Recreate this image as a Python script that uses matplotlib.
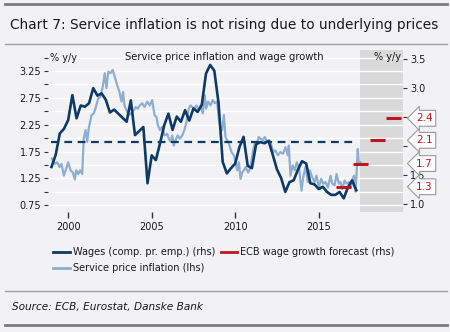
import numpy as np
import matplotlib
matplotlib.use("Agg")
import matplotlib.pyplot as plt
from matplotlib.lines import Line2D

plt.rcParams['font.family'] = ['DejaVu Sans']

# wages: compensation per employee, % y/y, quarterly from 1999Q1 (rhs)
wage_start = 1999.0
wages = [1.64, 1.85, 2.22, 2.30,
         2.45, 2.88, 2.48, 2.70,
         2.68, 2.74, 3.00, 2.87,
         2.91, 2.80, 2.58, 2.63,
         2.56, 2.49, 2.42, 2.79,
         2.19, 2.26, 2.33, 1.36,
         1.84, 1.76, 2.05, 2.36,
         2.56, 2.28, 2.51, 2.42,
         2.62, 2.44, 2.65, 2.59,
         2.71, 3.25, 3.40, 3.30,
         2.75, 1.73, 1.53, 1.62,
         1.70, 1.98, 2.16, 1.66,
         1.62, 2.03, 2.07, 2.05,
         2.09, 1.85, 1.60, 1.45,
         1.21, 1.38, 1.41, 1.59,
         1.74, 1.70, 1.36, 1.34,
         1.26, 1.30, 1.21, 1.16,
         1.16, 1.21, 1.10, 1.29,
         1.41, 1.24]
wage_avg = 2.07

# service price inflation, % y/y (lhs)
sip_dates = [1999.02, 1999.2, 1999.34, 1999.48, 1999.6, 1999.74, 1999.88,
             2000.0, 2000.14, 2000.28, 2000.4, 2000.48, 2000.6, 2000.72, 2000.84,
             2000.93, 2001.04, 2001.14, 2001.23, 2001.4, 2001.53, 2001.63, 2001.8,
             2001.93, 2002.07, 2002.19, 2002.29, 2002.4, 2002.53, 2002.67, 2002.79,
             2002.93, 2003.07, 2003.19, 2003.29, 2003.37, 2003.49, 2003.63, 2003.77,
             2003.93, 2004.03, 2004.17, 2004.29, 2004.43, 2004.57, 2004.73, 2004.89,
             2005.03, 2005.17, 2005.29, 2005.37, 2005.49, 2005.63, 2005.77, 2005.93,
             2006.02, 2006.13, 2006.23, 2006.32, 2006.43, 2006.56, 2006.68, 2006.83,
             2006.96, 2007.08, 2007.22, 2007.32, 2007.43, 2007.56, 2007.68, 2007.82,
             2007.92, 2008.06, 2008.18, 2008.26, 2008.38, 2008.52, 2008.66, 2008.78,
             2008.92, 2009.02, 2009.12, 2009.22, 2009.32, 2009.42, 2009.52, 2009.62,
             2009.78, 2009.92, 2010.02, 2010.12, 2010.22, 2010.32, 2010.42, 2010.52,
             2010.62, 2010.78, 2010.92, 2011.05, 2011.17, 2011.32, 2011.41, 2011.51,
             2011.65, 2011.77, 2011.92, 2012.05, 2012.17, 2012.28, 2012.41, 2012.55,
             2012.71, 2012.87, 2013.01, 2013.15, 2013.21, 2013.31, 2013.44, 2013.57,
             2013.69, 2013.83, 2013.97, 2014.09, 2014.21, 2014.35, 2014.47, 2014.61,
             2014.75, 2014.87, 2015.01, 2015.15, 2015.27, 2015.41, 2015.55, 2015.71,
             2015.81, 2015.95, 2016.07, 2016.21, 2016.31, 2016.41, 2016.55, 2016.67,
             2016.81, 2016.91, 2017.01, 2017.11, 2017.2, 2017.26, 2017.34, 2017.4,
             2017.5]
sip = [1.62, 1.52, 1.55, 1.46, 1.52, 1.30, 1.43,
       1.55, 1.40, 1.36, 1.23, 1.40, 1.33, 1.40, 1.33,
       1.99, 2.15, 1.93, 2.18, 2.43, 2.46, 2.55, 2.74,
       2.77, 2.96, 3.21, 2.93, 3.24, 3.21, 3.27, 3.14,
       2.99, 2.86, 2.68, 2.86, 2.61, 2.52, 2.43, 2.46,
       2.52, 2.58, 2.55, 2.61, 2.65, 2.58, 2.68, 2.61,
       2.71, 2.43, 2.39, 2.24, 2.15, 2.21, 2.05, 2.08,
       1.99, 1.93, 2.05, 1.86, 1.96, 2.05, 1.99, 2.05,
       2.15, 2.30, 2.55, 2.61, 2.58, 2.55, 2.61, 2.52,
       2.61, 2.46, 2.80, 2.55, 2.68, 2.61, 2.71, 2.65,
       2.68, 2.36, 2.18, 2.15, 2.43, 2.02, 1.96, 1.90,
       1.74, 1.68, 1.55, 1.40, 1.55, 1.24, 1.36, 1.40,
       1.46, 1.36, 1.46, 1.74, 1.90, 1.93, 2.02, 1.99,
       1.96, 2.02, 1.93, 1.96, 1.86, 1.74, 1.77, 1.68,
       1.74, 1.71, 1.83, 1.68, 1.86, 1.30, 1.49, 1.40,
       1.55, 1.43, 1.02, 1.30, 1.46, 1.18, 1.40, 1.27,
       1.18, 1.30, 1.08, 1.24, 1.15, 1.18, 1.08, 1.30,
       1.15, 1.12, 1.33, 1.15, 1.18, 1.05, 1.21, 1.15,
       1.18, 1.08, 1.21, 1.30, 1.00, 1.30, 1.80, 1.52,
       1.55]

# ECB wage growth forecast (rhs)
fc_years = [2016, 2017, 2018, 2019]
fc_values = [1.3, 1.7, 2.1, 2.48]
fc_labels = ['1.3', '1.7', '2.1', '2.4']

navy = '#0d3a66'
lightblue = '#8eaecf'
red = '#c0151f'
bg = '#f2f2f4'
txt = '#1a1a1a'

fig = plt.figure(figsize=(4.5, 3.32), dpi=100, facecolor=bg)
ax = fig.add_axes([0.107, 0.361, 0.789, 0.488], facecolor=bg)
ax2 = ax.twinx()

wage_x = wage_start + 0.25 * np.arange(len(wages))

ax.axvspan(2017.5, 2021, color='#d9d9d9', lw=0, zorder=0)
ax.set_axisbelow('line')
ax.grid(axis='y', color='white', lw=1, zorder=0.8)
ax.grid(axis='x', visible=False)

ax.plot(sip_dates, sip, color=lightblue, lw=1.6, zorder=2)
ax2.plot(wage_x, wages, color=navy, lw=1.9, zorder=3)
ax2.hlines(wage_avg, wage_x[0], wage_x[-1], color=navy, lw=1.6,
           linestyles=(0, (3.5, 2.5)), zorder=3)
for yr, v in zip(fc_years, fc_values):
    ax2.hlines(v, yr + 0.05, yr + 0.95, color=red, lw=2.2, zorder=4)

ax.set_xlim(1998.8, 2020.06)
ax.set_ylim(0.62, 3.64)
ax2.set_ylim(0.862, 3.655)

left_ticks = np.arange(0.75, 3.51, 0.25)
left_labels = ['%.2f' % t if i % 2 == 0 else '' for i, t in enumerate(left_ticks)]
ax.set_yticks(left_ticks)
ax.set_yticklabels(left_labels)
# 2.0 and 2.5 sit under the forecast label boxes
ax2.set_yticks([1.0, 1.5, 2.0, 2.5, 3.0, 3.5])
ax2.set_yticklabels(['1.0', '1.5', '', '', '3.0', '3.5'])
ax.set_xticks([2000, 2005, 2010, 2015])

for a in (ax, ax2):
    for s in a.spines.values():
        s.set_visible(False)
    a.tick_params(colors='#333333', labelsize=7, length=3, width=0.8, pad=2)
    a.tick_params(labelcolor=txt)
ax.tick_params(axis='x', length=4, width=1, pad=3)

ax.text(0.006, 3.5, '% y/y', transform=ax.get_yaxis_transform(),
        ha='left', va='center', fontsize=7, color=txt)
ax.text(0.495, 0.955, 'Service price inflation and wage growth', transform=ax.transAxes,
        ha='center', va='center', fontsize=7.2, color=txt)
ax.text(0.955, 0.955, '% y/y', transform=ax.transAxes, ha='center', va='center',
        fontsize=7, color=txt)

for v, lab in zip(fc_values, fc_labels):
    ax2.annotate(lab, xy=(1.06, v), xycoords=('axes fraction', 'data'),
                 ha='center', va='center', fontsize=7.5, color=red, zorder=10,
                 annotation_clip=False,
                 bbox=dict(boxstyle='larrow,pad=0.28', fc='white', ec='#999999', lw=0.8))

handles = [Line2D([], [], color=navy, lw=2),
           Line2D([], [], color=lightblue, lw=2),
           Line2D([], [], color=red, lw=2)]
labels = ['Wages (comp. pr. emp.) (rhs)', 'Service price inflation (lhs)',
          'ECB wage growth forecast (rhs)']
fig.legend(handles, labels, ncol=2, frameon=False, fontsize=7,
           loc='upper left', bbox_to_anchor=(0.118, 0.255),
           handlelength=1.7, handletextpad=0.3, columnspacing=0.6,
           labelspacing=0.6, borderaxespad=0, borderpad=0,
           labelcolor=txt)

fig.text(0.022, 0.925, 'Chart 7: Service inflation is not rising due to underlying prices',
         fontsize=9.9, color=txt, va='center', ha='left')
fig.text(0.027, 0.075, 'Source: ECB, Eurostat, Danske Bank', fontsize=7.6,
         style='italic', color=txt, va='center', ha='left')

def hline(y, lw, c):
    fig.add_artist(Line2D([0.011, 0.993], [y, y], transform=fig.transFigure,
                          color=c, lw=lw))

hline(1 - 3.5 / 332, 2, '#7a7a7a')
hline(1 - 43.5 / 332, 1, '#a0a0a0')
hline(1 - 291 / 332, 1, '#a0a0a0')
hline(1 - 325 / 332, 2, '#7a7a7a')

fig.savefig('out.png', dpi=100, facecolor=bg)
